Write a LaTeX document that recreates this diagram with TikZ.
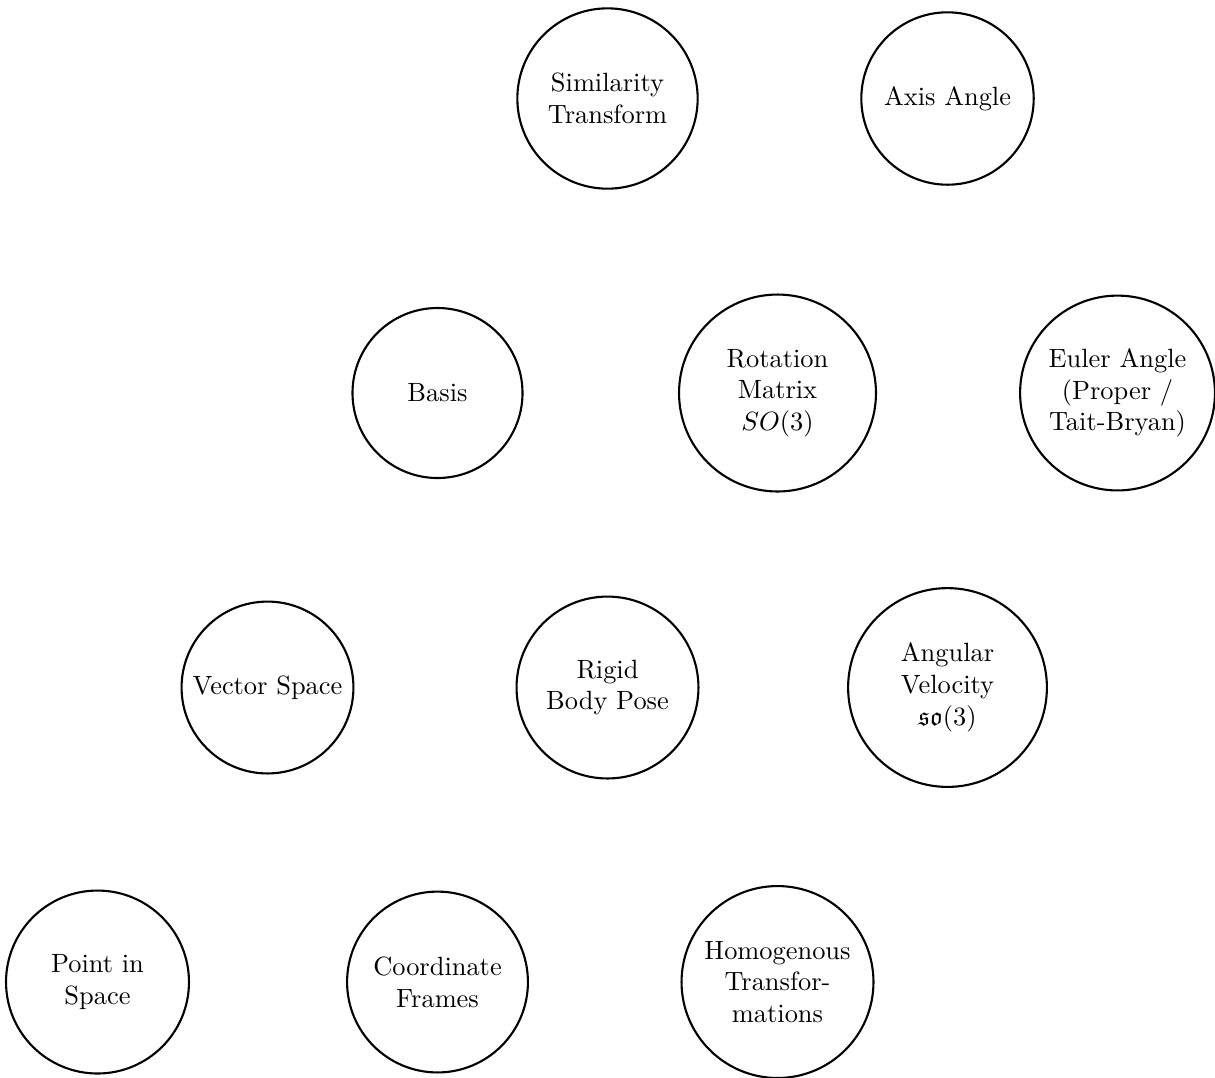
\documentclass[tikz,border=0pt]{standalone}
\usepackage{amssymb}
\begin{document}
\begin{tikzpicture}[x=0.37879pt,y=-0.37879pt,
  concept/.style={circle,draw,thick,align=center,inner sep=0pt}]
\useasboundingbox (0,0) rectangle (1215,1077);
% row 1
\node[concept,minimum size=68.3pt] (sim) at (607.5,98.5) {Similarity\\Transform};
\node[concept,minimum size=65.3pt] (axis) at (947.5,98.5) {Axis Angle};
% row 2
\node[concept,minimum size=64.4pt] (basis) at (437.5,393) {Basis};
\node[concept,minimum size=74.6pt] (rot) at (777.5,393) {Rotation\\Matrix\\$SO(3)$};
\node[concept,minimum size=73.8pt] (euler) at (1117.5,393) {Euler Angle\\(Proper /\\Tait-Bryan)};
% row 3
\node[concept,minimum size=65.1pt] (vec) at (267.5,687.5) {Vector Space};
\node[concept,minimum size=68.9pt] (rigid) at (607.5,687.5) {Rigid\\Body Pose};
\node[concept,minimum size=75.3pt] (ang) at (947.5,687.5) {Angular\\Velocity\\$\mathfrak{so}(3)$};
% row 4
\node[concept,minimum size=69.3pt] (point) at (97.5,982) {Point in\\Space};
\node[concept,minimum size=68.5pt] (coord) at (437.5,982) {Coordinate\\Frames};
\node[concept,minimum size=72.7pt] (homog) at (777.5,982) {Homogenous\\Transfor-\\mations};
\end{tikzpicture}
\end{document}
